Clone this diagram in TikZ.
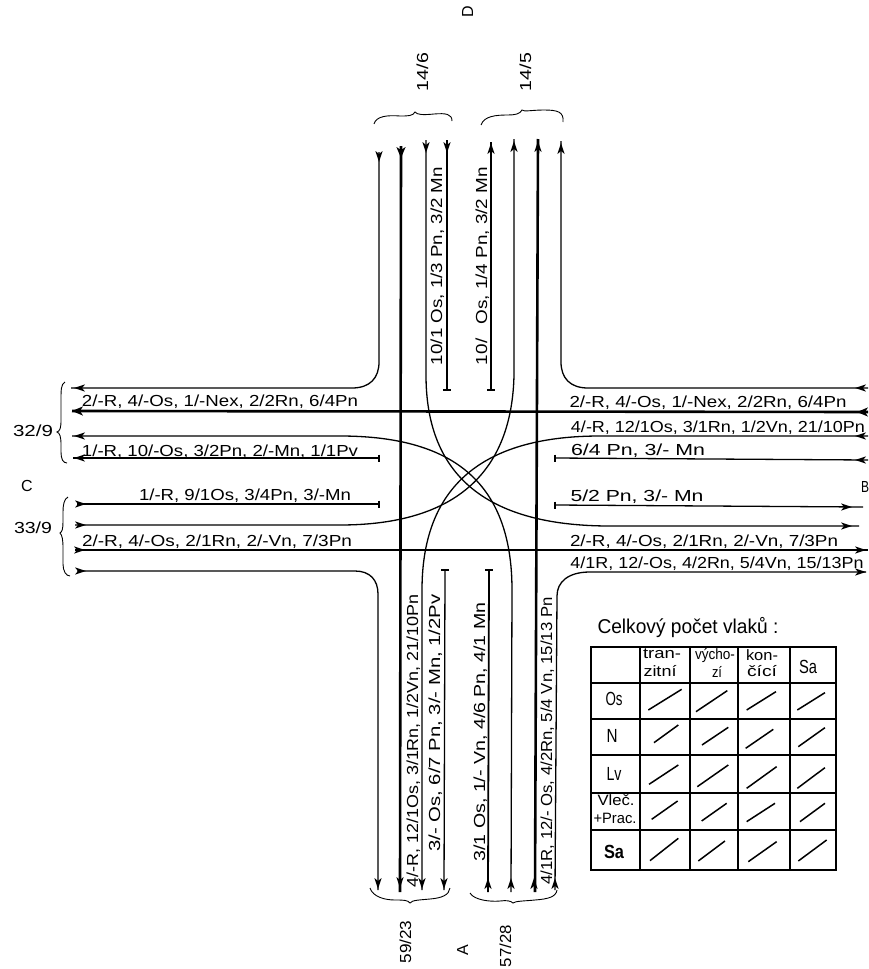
\documentclass[tikz,border=0pt]{standalone}
\usepackage{graphicx}
\usepackage{fontspec}
\setmainfont{Liberation Sans}
\newcommand{\lab}[2]{\resizebox{#1pt}{\height}{#2}}
% arrow head: x, y of tip, direction (canvas degrees)
\newcommand{\hd}[3]{\fill[shift={(#1,#2)},rotate=#3] (0,0) -- (-11,-3.6) -- (-8,0) -- (-11,3.6) -- cycle;}
\newcommand{\hdb}[3]{\fill[shift={(#1,#2)},rotate=#3] (0,0) -- (-11,-4.6) -- (-8,0) -- (-11,4.6) -- cycle;}
% end bars: x, y of the line's end
\newcommand{\barh}[2]{\draw[endbar] (#1-4,#2) -- (#1+4,#2);}
\newcommand{\barv}[2]{\draw[endbar] (#1,#2-3.5) -- (#1,#2+3.5);}
\tikzset{
  thinline/.style={line width=1.3pt},
  thickline/.style={line width=2.6pt},
  endbar/.style={line width=2pt},
  txt/.style={font=\fontsize{16}{16}\selectfont,inner sep=0pt,anchor=base},
  vtxt/.style={txt,rotate=90},
  tab/.style={inner sep=0pt,anchor=center,font=\fontsize{19}{19}\selectfont},
  hdr/.style={inner sep=0pt,anchor=center,font=\fontsize{15}{15}\selectfont},
  cell/.style={line width=1.3pt},
  slash/.style={line width=1.5pt},
  brace/.style={line width=0.9pt},
  zoomA/.style={shift={(580,600)},x=0.3333pt,y=-0.3333pt},
  zoomB/.style={shift={(580,780)},x=0.3333pt,y=-0.3333pt}
}
\begin{document}
\begin{tikzpicture}[x=1pt,y=-1pt]
\useasboundingbox (0,0) rectangle (868,969);
% verticals and corner curves
\draw[thinline] (379,152) -- (379,362) .. controls (379,378) and (370,388) .. (352,388) -- (71,388);
\hd{379}{162}{270} \hd{74}{388}{180}
\draw[thickline] (401,146) -- (400,892);
\hdb{401}{158}{270} \hd{400}{888}{270}
\draw[thinline] (426,140) -- (426,375) .. controls (426,470) and (480,526) .. (610,526) -- (859,526);
\hd{426}{153}{270} \hd{852}{526}{0}
\draw[thinline] (447,140) -- (447,390);
\barh{447}{390} \hd{447}{153}{270}
\draw[thinline] (491,142) -- (491,390);
\barh{491}{390} \hd{491}{143}{90}
\draw[thinline] (514,139) -- (514,375) .. controls (512,470) and (458,525) .. (340,525) -- (75,525);
\hd{514}{141}{90} \hd{86}{525}{0}
\draw[thickline] (538,139) -- (535,892);
\hd{538}{141}{90} \hd{534}{878}{90}
\draw[thinline] (561,141) -- (561,362) .. controls (561,378) and (570,388) .. (588,388) -- (868,388);
\hd{561}{143}{90} \hd{855}{388}{180}
% horizontals
\draw[thickline] (72,411) -- (868,412);
\hdb{72}{411}{180} \hdb{857}{412}{180}
\draw[thinline] (72,436) -- (340,436) .. controls (450,436) and (512,480) .. (512,590) -- (511,892);
\hd{74}{436}{180} \hd{511}{878}{90}
\draw[thinline] (73,458) -- (379,458);
\barv{379}{458} \hd{74}{458}{180}
\draw[thinline] (77,504) -- (379,504);
\barv{379}{504} \hd{86}{504}{0}
\draw[thickline] (75,550) -- (868,550);
\hd{85}{550}{0} \hd{866}{550}{0}
\draw[thinline] (77,571) -- (355,571) .. controls (370,571) and (378,580) .. (378,594) -- (378,890);
\hd{86}{571}{0} \hd{378}{889}{270}
\draw[thinline] (868,436) -- (600,436) .. controls (490,436) and (422,480) .. (422,590) -- (422,890);
\hd{855}{436}{180} \hd{422}{889}{270}
\draw[thinline] (868,460) -- (555,458);
\barv{555}{458} \hd{855}{460}{180}
\draw[thinline] (555,505) -- (863,507);
\barv{555}{505} \hd{852}{507}{0}
\draw[thinline] (866,572) -- (590,572) .. controls (568,572) and (557,582) .. (557,596) -- (555,890);
\hd{866}{572}{0} \hd{555}{878}{90}
\draw[thinline] (445,570) -- (444,890);
\barh{445}{570} \hd{444}{889}{270}
\draw[line width=1.8pt] (489,570) -- (488,892);
\barh{489}{570} \hd{488}{878}{90}
% horizontal labels
\node[txt] (l1) at (220,406) {\lab{276}{2/-R, 4/-Os, 1/-Nex, 2/2Rn, 6/4Pn}};
\node[txt] (l2) at (220,456) {\lab{276}{1/-R, 10/-Os, 3/2Pn, 2/-Mn, 1/1Pv}};
\node[txt] (l3) at (245,500) {\lab{212}{1/-R, 9/1Os, 3/4Pn, 3/-Mn}};
\node[txt] (l4) at (217,546) {\lab{270}{2/-R, 4/-Os, 2/1Rn, 2/-Vn, 7/3Pn}};
\node[txt] (r1) at (708,407) {\lab{277}{2/-R, 4/-Os, 1/-Nex, 2/2Rn, 6/4Pn}};
\node[txt] (r2) at (718,432) {\lab{294}{4/-R, 12/1Os, 3/1Rn, 1/2Vn, 21/10Pn}};
\node[txt] (r3) at (638,455) {\lab{134}{6/4 Pn,  3/- Mn}};
\node[txt] (r4) at (637,501) {\lab{133}{5/2 Pn,  3/- Mn}};
\node[txt] (r5) at (704,546) {\lab{268}{2/-R, 4/-Os, 2/1Rn, 2/-Vn, 7/3Pn}};
\node[txt] (r6) at (717,568) {\lab{293}{4/1R, 12/-Os, 4/2Rn, 5/4Vn, 15/13Pn}};
% vertical labels
\node[vtxt] (t1) at (442,266) {\lab{198}{10/1 Os, 1/3 Pn, 3/2 Mn}};
\node[vtxt] (t2) at (487,266) {\lab{198}{10/\hspace{12pt}Os, 1/4 Pn, 3/2 Mn}};
\node[vtxt] (b1) at (418,741) {\lab{293}{4/-R, 12/1Os, 3/1Rn, 1/2Vn, 21/10Pn}};
\node[vtxt] (b2) at (440,723) {\lab{257}{3/- Os, 6/7 Pn, 3/- Mn,  1/2Pv}};
\node[vtxt] (b3) at (485,732) {\lab{259}{3/1 Os, 1/- Vn, 4/6 Pn, 4/1 Mn}};
\node[vtxt] (b4) at (552,741) {\lab{287}{4/1R, 12/- Os, 4/2Rn, 5/4 Vn, 15/13 Pn}};
% braces
\draw[brace] (374,124) .. controls (376,116) and (388,115) .. (400,116) .. controls (408,116) and (413,116) .. (415,112) .. controls (417,115) and (424,115) .. (434,114) .. controls (446,113) and (452,114) .. (452,121);
\draw[brace] (481,125) .. controls (484,116) and (496,115) .. (508,115) .. controls (515,115) and (520,114) .. (522,110) .. controls (524,112) and (532,110) .. (544,110) .. controls (558,110) and (564,112) .. (563,122);
\draw[brace] (65,382) .. controls (61,384) and (61,390) .. (61,400) -- (61,420) .. controls (61,428) and (60,431) .. (57,432) .. controls (60,433) and (61,437) .. (61,445) -- (61,452) .. controls (61,459) and (63,463) .. (67,463);
\draw[brace] (68,497) .. controls (64,499) and (63,505) .. (63,512) -- (63,522) .. controls (63,529) and (62,532) .. (60,533) .. controls (62,535) and (63,539) .. (63,548) -- (63,564) .. controls (63,571) and (66,576) .. (70,576);
\draw[brace] (370,888) .. controls (373,897) and (385,900) .. (395,900) .. controls (403,900) and (408,900) .. (410,903) .. controls (412,900) and (420,900) .. (430,899) .. controls (442,898) and (449,895) .. (450,888);
\draw[brace] (470,893) .. controls (474,900) and (490,902) .. (500,901) .. controls (507,900) and (511,901) .. (513,903) .. controls (515,901) and (525,901) .. (535,900) .. controls (548,899) and (556,897) .. (557,890);
% outer labels
\node[vtxt] (n146) at (428,72) {\lab{38}{14/6}};
\node[vtxt] (n145) at (531,72) {\lab{38}{14/5}};
\node[vtxt] (nD) at (473,12) {D};
\node[txt] (n329) at (33,436) {\lab{40}{32/9}};
\node[txt] (n339) at (33,533) {\lab{38}{33/9}};
\node[txt] (nC) at (27,491) {C};
\node[txt] (nB) at (865,492) {\lab{8}{B}};
\node[vtxt] (n5923) at (411,942) {\lab{43}{59/23}};
\node[vtxt] (nA) at (468,950) {A};
\node[vtxt] (n5728) at (511,946) {\lab{42}{57/28}};
% table
\node[tab,font=\fontsize{20}{20}\selectfont] (title) at (688,628) {\lab{181}{Celkový počet vlaků :}};
\foreach \xa/\xb in {591/640,640/690,690/738,738/790,790/836}
  \foreach \ya/\yb in {647/683,683/719,719/755,755/793,793/830,830/870}
    \draw[cell] (\xa,\ya) rectangle (\xb,\yb);
\begin{scope}[zoomA]
\foreach \ax/\ay/\bx/\by in {205/330/305/268,348/335/442/272,500/330/588/275,652/330/735/278,
  222/428/295/375,366/435/445/382,497/445/580/388,655/440/735/383,
  207/553/295/495,352/560/445/495,500/565/590/500,652/565/735/503,
  215/658/293/603,365/663/440/610,500/665/585/610,660/665/735/610}
  \draw[slash] (\ax,\ay) -- (\bx,\by);
\end{scope}
\begin{scope}[zoomB]
\foreach \ax/\ay/\bx/\by in {210/242/295/175,355/243/435/183,505/245/590/185,655/243/740/180}
  \draw[slash] (\ax,\ay) -- (\bx,\by);
\end{scope}
\node[hdr] (h1a) at (662,654) {\lab{38}{tran-}};
\node[hdr] (h1b) at (660,671) {\lab{33}{zitní}};
\node[hdr] (h2a) at (715,656) {\lab{40}{výcho-}};
\node[hdr] (h2b) at (717,672) {\lab{10}{zí}};
\node[hdr] (h3a) at (762,655) {\lab{32}{kon-}};
\node[hdr] (h3b) at (762,671) {\lab{30}{čící}};
\node[tab] (h4) at (808,667) {\lab{18}{Sa}};
\node[tab] (r1a) at (614,699) {\lab{17}{Os}};
\node[tab] (r2a) at (612,736) {\lab{11}{N}};
\node[tab] (r3a) at (614,774) {\lab{15}{Lv}};
\node[hdr] (r4a) at (616,800) {\lab{37}{Vleč.}};
\node[hdr] (r4b) at (615,818) {\lab{43}{+Prac.}};
\node[tab,font=\fontsize{19}{19}\selectfont\bfseries] (r5a) at (614,852) {\lab{20}{Sa}};
\end{tikzpicture}
\end{document}
